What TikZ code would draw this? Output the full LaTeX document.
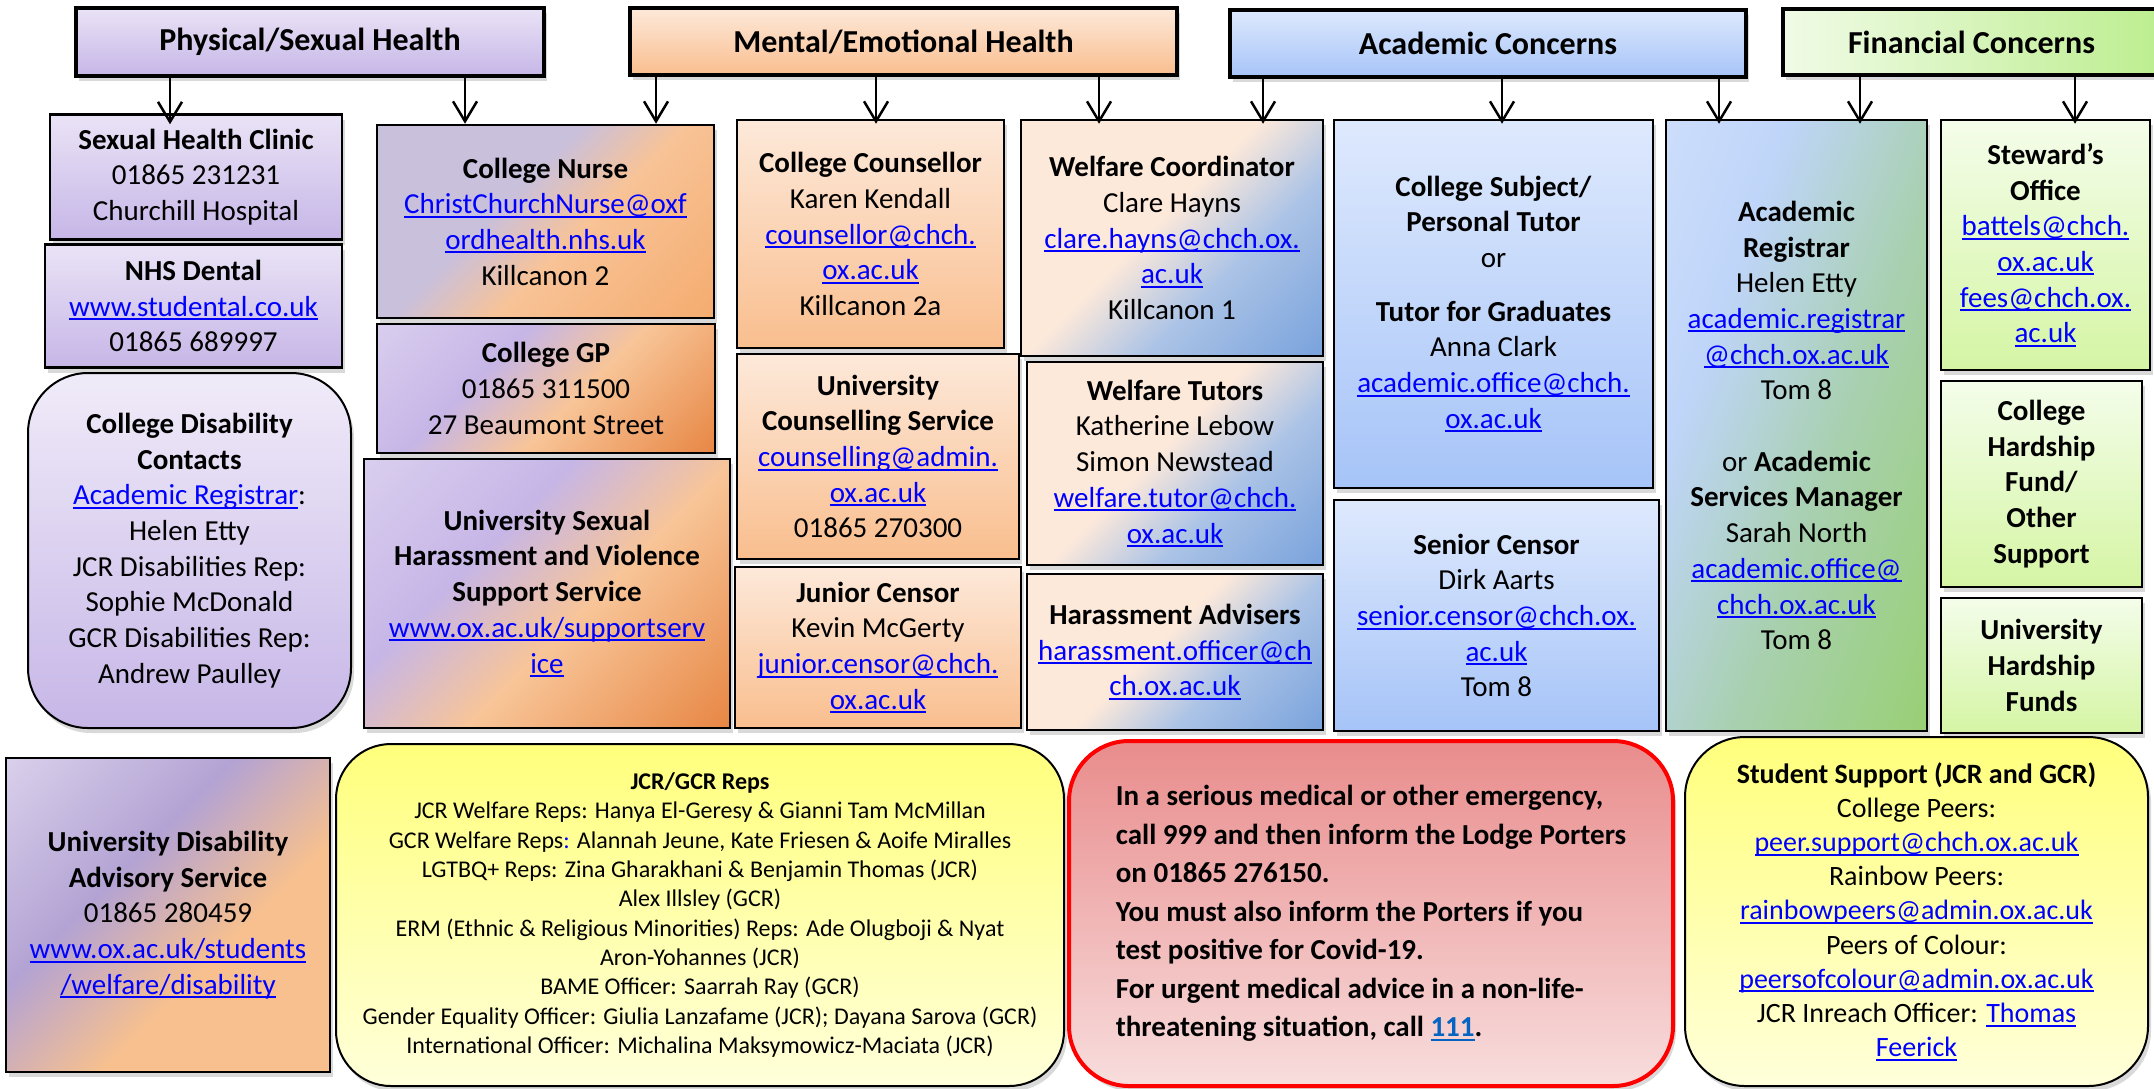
\documentclass[tikz,border=0pt]{standalone}
\usepackage{fontspec}
\setmainfont{Carlito}
\usetikzlibrary{arrows.meta,shadows}

\definecolor{lavtop}{HTML}{EAE3F6}
\definecolor{lavbot}{HTML}{C6B6E7}
\definecolor{peachtop}{HTML}{FDE9DA}
\definecolor{peachbot}{HTML}{F9BE8E}
\definecolor{bluetop}{HTML}{DEE9FD}
\definecolor{bluebot}{HTML}{A6C4F8}
\definecolor{greenleft}{HTML}{F0FBE6}
\definecolor{greenright}{HTML}{BDEE90}
\definecolor{greentop}{HTML}{F4FDEA}
\definecolor{greenbot}{HTML}{D5F5A4}
\definecolor{yellowtop}{HTML}{FFFF7C}
\definecolor{yellowbot}{HTML}{FFFFDA}
\definecolor{redtop}{HTML}{E98C8C}
\definecolor{redbot}{HTML}{F8DDDD}
\definecolor{linkblue}{HTML}{0000FF}
\definecolor{nhsblue}{HTML}{0563C1}
% colours of the diagonal fills
\definecolor{nurseA}{HTML}{C9C0DC}
\definecolor{nurseB}{HTML}{F8C397}
\definecolor{nurseC}{HTML}{F3A05A}
\definecolor{gpA}{HTML}{E6DDF3}
\definecolor{gpB}{HTML}{F8C598}
\definecolor{gpC}{HTML}{DF671A}
\definecolor{wfA}{HTML}{FDE9DA}
\definecolor{wfB}{HTML}{ABC3E6}
\definecolor{wfC}{HTML}{5A8ED6}
\definecolor{arA}{HTML}{DCE7FD}
\definecolor{arB}{HTML}{BFD5F9}
\definecolor{arC}{HTML}{A8D0B0}
\definecolor{arD}{HTML}{8FCF4C}
\definecolor{udA}{HTML}{EFEAF8}
\definecolor{udB}{HTML}{B3A3D4}
\definecolor{udC}{HTML}{F7C08E}
\definecolor{udD}{HTML}{FFC000}

\pgfdeclarehorizontalshading{nurseshade}{100bp}{color(0bp)=(nurseA); color(42bp)=(nurseA); color(56bp)=(nurseB); color(100bp)=(nurseC)}
\pgfdeclarehorizontalshading{gpshade}{100bp}{color(0bp)=(gpA); color(38bp)=(lavbot); color(56bp)=(gpB); color(100bp)=(gpC)}
\pgfdeclarehorizontalshading{welfareshade}{100bp}{color(0bp)=(wfA); color(46bp)=(wfA); color(62bp)=(wfB); color(100bp)=(wfC)}
\pgfdeclarehorizontalshading{regshade}{100bp}{color(0bp)=(arA); color(34bp)=(arB); color(56bp)=(arC); color(100bp)=(arD)}
\pgfdeclarehorizontalshading{udasshade}{100bp}{color(0bp)=(udA); color(40bp)=(udB); color(60bp)=(udC); color(94bp)=(udC); color(100bp)=(udD)}

\newsavebox{\linkbox}
\newcommand{\linkline}[1]{\sbox{\linkbox}{#1}\rlap{\rule[-4pt]{\wd\linkbox}{2pt}}\usebox{\linkbox}}
\newcommand{\weblink}[1]{\textcolor{linkblue}{\linkline{#1}}}

\tikzset{
  shadowed/.style={drop shadow={shadow xshift=3pt, shadow yshift=-5pt, opacity=0.3}},
  box/.style={draw=black, line width=2.5pt, align=center, inner sep=2pt, shadowed,
    font=\fontsize{29}{35.7}\selectfont},
  head/.style={box, line width=3.5pt, font=\fontsize{32}{38}\selectfont\bfseries},
  roundbox/.style={box, line width=2pt, rounded corners=#1},
  physfill/.style={top color=lavtop, bottom color=lavbot},
  mentfill/.style={top color=peachtop, bottom color=peachbot},
  acadfill/.style={top color=bluetop, bottom color=bluebot},
  finfill/.style={top color=greentop, bottom color=greenbot},
  yellowfill/.style={top color=yellowtop, bottom color=yellowbot},
  diag/.style={shade, shading=#1, shading angle=-45},
  arr/.style={line width=2.5pt, shorten >=-5pt,
    -{Straight Barb[length=20pt, width=24pt, line width=2.5pt]}},
}

\begin{document}
\begin{tikzpicture}[x=1pt,y=-1pt]
  \useasboundingbox (0,0) rectangle (2154,1088);

  % headers
  \node[head, physfill, minimum width=468pt, minimum height=68pt] (phys) at (310,42) {Physical/Sexual Health};
  \node[head, mentfill, minimum width=547pt, minimum height=67pt] (ment) at (903.5,41.5) {Mental/Emotional Health};
  \node[head, acadfill, minimum width=516pt, minimum height=67pt] (acad) at (1488,43.5) {Academic Concerns};
  \node[head, left color=greenleft, right color=greenright, minimum width=377pt, minimum height=66pt] (fin) at (1971.5,42) {Financial Concerns};

  % physical / sexual health
  \node[box, physfill, minimum width=292pt, minimum height=125pt] (clinic) at (196,177)
    {\textbf{Sexual Health Clinic}\\01865 231231\\Churchill Hospital};
  \node[box, physfill, minimum width=297pt, minimum height=123pt] (dental) at (193.5,306)
    {\textbf{NHS Dental}\\\weblink{www.studental.co.uk}\\01865 689997};
  \node[roundbox=60pt, top color=lavtop!70!white, bottom color=lavbot, minimum width=323pt, minimum height=355pt] (disab) at (189.5,550.5)
    {\textbf{College Disability}\\\textbf{Contacts}\\\weblink{Academic Registrar}:\\Helen Etty\\JCR Disabilities Rep:\\Sophie McDonald\\GCR Disabilities Rep:\\Andrew Paulley};
  \node[box, diag=udasshade, minimum width=324pt, minimum height=314pt] (udas) at (168,915)
    {\textbf{University Disability}\\\textbf{Advisory Service}\\01865 280459\\\weblink{www.ox.ac.uk/students}\\\weblink{/welfare/disability}};

  \node[box, diag=nurseshade, minimum width=337pt, minimum height=193pt] (nurse) at (545.5,221.5)
    {\textbf{College Nurse}\\\weblink{ChristChurchNurse@oxf}\\\weblink{ordhealth.nhs.uk}\\Killcanon 2};
  \node[box, diag=gpshade, minimum width=338pt, minimum height=129pt] (gp) at (546,388.5)
    {\textbf{College GP}\\01865 311500\\27 Beaumont Street};
  \node[box, diag=gpshade, minimum width=366pt, minimum height=269pt] (svs) at (547,593.5)
    {\textbf{University Sexual}\\\textbf{Harassment and Violence}\\\textbf{Support Service}\\\weblink{www.ox.ac.uk/supportserv}\\\weblink{ice}};

  % mental / emotional health
  \node[box, mentfill, minimum width=267pt, minimum height=228pt] (counsellor) at (870.5,234)
    {\textbf{College Counsellor}\\Karen Kendall\\\weblink{counsellor@chch.}\\\weblink{ox.ac.uk}\\Killcanon 2a};
  \node[box, mentfill, minimum width=282pt, minimum height=205pt] (ucs) at (878,456.5)
    {\textbf{University}\\\textbf{Counselling Service}\\\weblink{counselling@admin.}\\\weblink{ox.ac.uk}\\01865 270300};
  \node[box, mentfill, minimum width=286pt, minimum height=161pt] (jcensor) at (878,647.5)
    {\textbf{Junior Censor}\\Kevin McGerty\\\weblink{junior.censor@chch.}\\\weblink{ox.ac.uk}};

  \node[box, diag=welfareshade, minimum width=302pt, minimum height=236pt] (wcoord) at (1172,238)
    {\textbf{Welfare Coordinator}\\Clare Hayns\\\weblink{clare.hayns@chch.ox.}\\\weblink{ac.uk}\\Killcanon 1};
  \node[box, diag=welfareshade, minimum width=296pt, minimum height=203pt] (wtutors) at (1175,463.5)
    {\textbf{Welfare Tutors}\\Katherine Lebow\\Simon Newstead\\\weblink{welfare.tutor@chch.}\\\weblink{ox.ac.uk}};
  \node[box, diag=welfareshade, minimum width=296pt, minimum height=156pt] (hadv) at (1175,652)
    {\textbf{Harassment Advisers}\\\weblink{harassment.officer@ch}\\\weblink{ch.ox.ac.uk}};

  % academic concerns
  \node[box, acadfill, minimum width=319pt, minimum height=368pt] (tutor) at (1493.5,304)
    {\textbf{College Subject/}\\\textbf{Personal Tutor}\\or\\[18pt]\textbf{Tutor for Graduates}\\Anna Clark\\\weblink{academic.office@chch.}\\\weblink{ox.ac.uk}};
  \node[box, acadfill, minimum width=325pt, minimum height=231pt] (scensor) at (1496.5,615.5)
    {\textbf{Senior Censor}\\Dirk Aarts\\\weblink{senior.censor@chch.ox.}\\\weblink{ac.uk}\\Tom 8};
  \node[box, diag=regshade, shading angle=-20, minimum width=261pt, minimum height=611pt] (areg) at (1796.5,425.5)
    {\textbf{Academic}\\\textbf{Registrar}\\Helen Etty\\\weblink{academic.registrar}\\\weblink{@chch.ox.ac.uk}\\Tom 8\\[35.7pt]or \textbf{Academic}\\\textbf{Services Manager}\\Sarah North\\\weblink{academic.office@}\\\weblink{chch.ox.ac.uk}\\Tom 8};

  % financial concerns
  \node[box, finfill, minimum width=209pt, minimum height=250pt] (steward) at (2045.5,245)
    {\textbf{Steward’s}\\\textbf{Office}\\\weblink{battels@chch.}\\\weblink{ox.ac.uk}\\\weblink{fees@chch.ox.}\\\weblink{ac.uk}};
  \node[box, finfill, minimum width=201pt, minimum height=206pt] (chard) at (2041.5,484)
    {\textbf{College}\\\textbf{Hardship}\\\textbf{Fund/}\\\textbf{Other}\\\textbf{Support}};
  \node[box, finfill, minimum width=201pt, minimum height=135pt] (uhard) at (2041.5,665.5)
    {\textbf{University}\\\textbf{Hardship}\\\textbf{Funds}};

  % bottom row
  \node[roundbox=55pt, yellowfill, minimum width=728pt, minimum height=342pt,
    font=\fontsize{24}{29.3}\selectfont] (reps) at (700,915)
    {\textbf{JCR/GCR Reps}\\JCR Welfare Reps: Hanya El-Geresy \& Gianni Tam McMillan\\GCR Welfare Reps\textcolor{linkblue}{:} Alannah Jeune, Kate Friesen \& Aoife Miralles\\LGTBQ+ Reps: Zina Gharakhani \& Benjamin Thomas (JCR)\\Alex Illsley (GCR)\\ERM (Ethnic \& Religious Minorities) Reps: Ade Olugboji \& Nyat\\Aron-Yohannes (JCR)\\BAME Officer: Saarrah Ray (GCR)\\Gender Equality Officer: Giulia Lanzafame (JCR); Dayana Sarova (GCR)\\International Officer: Michalina Maksymowicz-Maciata (JCR)};
  \node[roundbox=60pt, draw=red, line width=4pt, top color=redtop, bottom color=redbot, align=left,
    minimum width=604pt, minimum height=345pt, font=\fontsize{29}{38.5}\selectfont\bfseries] (emergency) at (1371,913.5)
    {In a serious medical or other emergency,\\call 999 and then inform the Lodge Porters\\on 01865 276150.\\You must also inform the Porters if you\\test positive for Covid-19.\\For urgent medical advice in a non-life-\\threatening situation, call \textcolor{nhsblue}{\linkline{111}}.};
  \node[roundbox=60pt, yellowfill, minimum width=463pt, minimum height=349pt,
    font=\fontsize{28}{34.2}\selectfont] (peers) at (1916.5,911.5)
    {\textbf{Student Support (JCR and GCR)}\\College Peers:\\\weblink{peer.support@chch.ox.ac.uk}\\Rainbow Peers:\\\weblink{rainbowpeers@admin.ox.ac.uk}\\Peers of Colour:\\\weblink{peersofcolour@admin.ox.ac.uk}\\JCR Inreach Officer: \weblink{Thomas}\\\weblink{Feerick}};

  % arrows from the headers
  \draw[arr, shorten >=-11pt] (phys.south -| 170,0) -- (clinic.north -| 170,0);
  \draw[arr, shorten >=0pt] (phys.south -| 465,0) -- (nurse.north -| 465,0);
  \draw[arr, shorten >=0pt] (ment.south -| 656,0) -- (nurse.north -| 656,0);
  \draw[arr] (ment.south -| 876,0) -- (counsellor.north -| 876,0);
  \draw[arr] (ment.south -| 1099,0) -- (wcoord.north -| 1099,0);
  \draw[arr] (acad.south -| 1263,0) -- (wcoord.north -| 1263,0);
  \draw[arr] (acad.south -| 1502,0) -- (tutor.north -| 1502,0);
  \draw[arr] (acad.south -| 1719,0) -- (areg.north -| 1719,0);
  \draw[arr] (fin.south -| 1860,0) -- (areg.north -| 1860,0);
  \draw[arr] (fin.south -| 2075,0) -- (steward.north -| 2075,0);
\end{tikzpicture}
\end{document}
